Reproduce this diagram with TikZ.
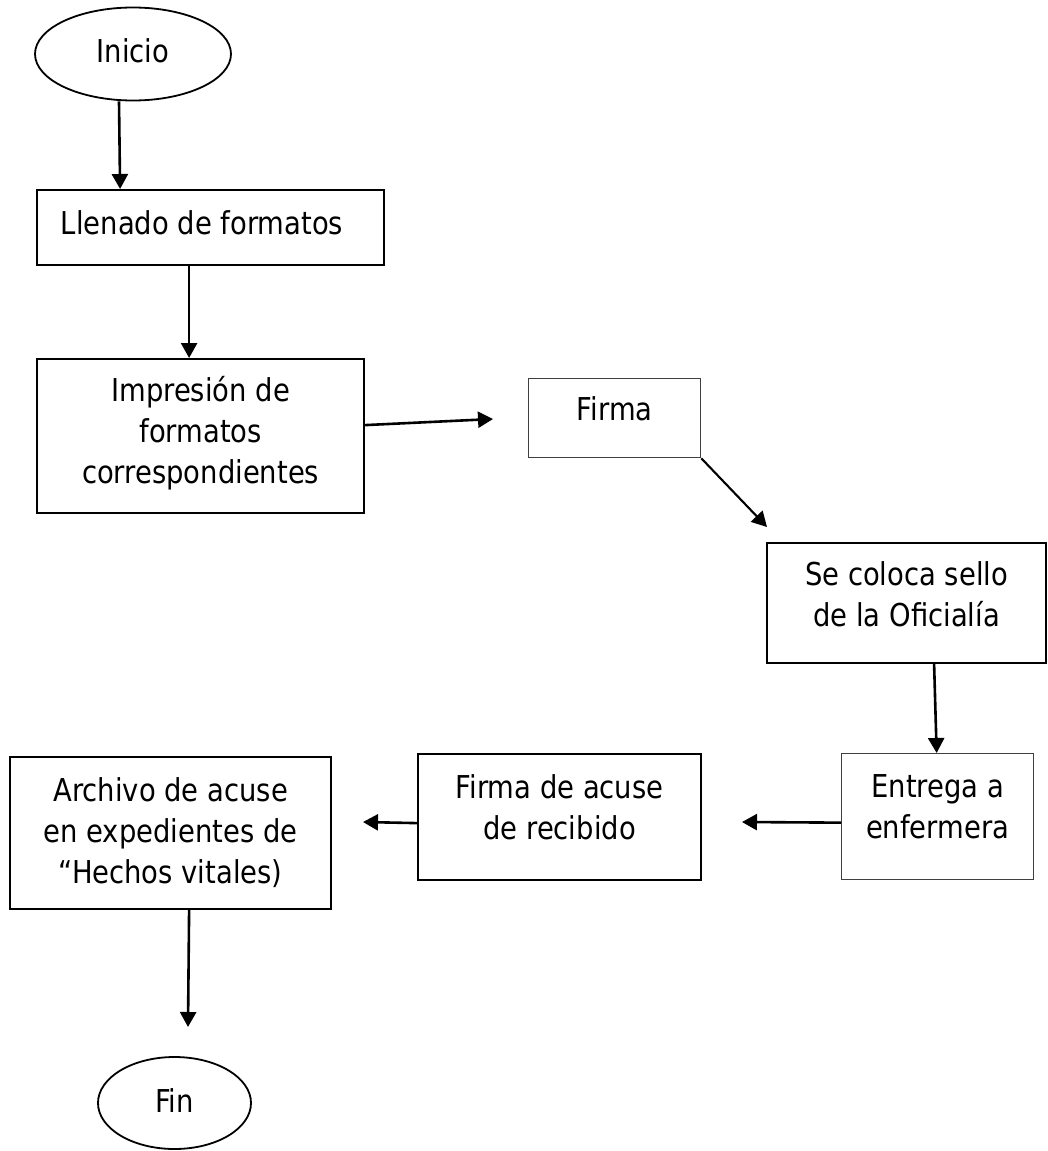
\documentclass[tikz,border=0pt]{standalone}
\usepackage{fontspec}
\setmainfont{DejaVu Sans}[FakeStretch=0.87]
\usetikzlibrary{arrows.meta,shapes.geometric}
\begin{document}
\begin{tikzpicture}[x=1pt,y=-1pt,
  every node/.style={font=\fontsize{31.5}{41}\selectfont},
  box/.style={draw, line width=2.2pt, inner sep=0pt, align=center, anchor=north west},
  thinbox/.style={box, line width=1.3pt, draw=black!75},
  term/.style={draw, ellipse, line width=1.8pt, inner sep=0pt},
  arr/.style={line width=2.6pt, -{Triangle[length=15pt,width=16pt]}}]
\fill[white] (0,0) rectangle (1047,1151);
\useasboundingbox (0,0) rectangle (1047,1151);

\node[term, minimum width=196pt, minimum height=93pt, text height=20pt, text depth=4pt] (ini) at (133,54) {Inicio};
\node[box, minimum width=347pt, minimum height=75pt, text height=44pt, text depth=31pt] (llen) at (36,189) {Llenado de formatos\hspace*{17pt}};
\node[box, minimum width=327pt, minimum height=154pt, text height=124pt, text depth=30pt] (imp) at (36,358) {Impresión de\\formatos\\correspondientes};
\node[thinbox, minimum width=172pt, minimum height=79pt, text height=42pt, text depth=37pt] (firma) at (528,378) {Firma};
\node[box, minimum width=279pt, minimum height=120pt, text height=83pt, text depth=37pt] (sello) at (766,542) {Se coloca sello\\de la Oficialía};
\node[thinbox, minimum width=192pt, minimum height=126pt, text height=85pt, text depth=41pt] (entrega) at (841,753) {Entrega a\\enfermera};
\node[box, minimum width=283pt, minimum height=126pt, text height=85pt, text depth=41pt] (acuse) at (417,753) {Firma de acuse\\de recibido};
\node[box, minimum width=321pt, minimum height=152pt, text height=126pt, text depth=26pt] (arch) at (9,756) {Archivo de acuse\\en expedientes de\\“Hechos vitales)};
\node[term, minimum width=153pt, minimum height=92pt, text height=22pt, text depth=4pt] (fin) at (174.5,1103) {Fin};

\coordinate (t3) at (493,419);
\coordinate (t4) at (767,527);
\coordinate (t6) at (742,822);
\coordinate (t7) at (363,822);
\coordinate (t8) at (188,1027);

\draw[arr] ([xshift=-14pt]ini.south) -- ([xshift=-90.5pt]llen.north);
\draw[arr] ([xshift=-21.5pt]llen.south) -- ([xshift=-11.5pt]imp.north);
\draw[arr] ([yshift=11pt]imp.east) -- (t3);
\draw[arr, line width=2.1pt] (firma.south east) -- (t4);
\draw[arr] ([xshift=27.5pt]sello.south) -- ([xshift=-1pt]entrega.north);
\draw[arr] ([yshift=-6pt]entrega.west) -- (t6);
\draw[arr] ([yshift=-6pt]acuse.west) -- (t7);
\draw[arr] ([xshift=18.5pt]arch.south) -- (t8);
\end{tikzpicture}
\end{document}
